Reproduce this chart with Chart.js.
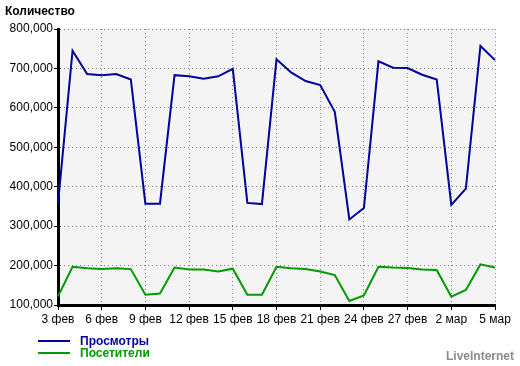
<!DOCTYPE html>
<html lang="ru">
<head>
    <meta charset="UTF-8">
    <title>Количество</title>
    <script src="https://cdn.jsdelivr.net/npm/chart.js"></script>
    <style>
        body {
            margin: 0;
            font-family: "Liberation Sans", Arial, sans-serif;
            background: #fff;
        }
        .wrap {
            position: relative;
            width: 520px;
            height: 366px;
        }
        canvas {
            position: absolute;
            left: 0;
            top: 0;
        }
        .title {
            position: absolute;
            left: 5px;
            top: 4px;
            font-weight: bold;
            font-size: 12px;
            color: #000;
        }
        .legend {
            position: absolute;
            left: 38px;
            top: 335px;
            font-weight: bold;
            font-size: 12px;
            line-height: 12px;
        }
        .legend div {
            height: 12px;
            display: flex;
            align-items: center;
        }
        .legend span.line {
            display: inline-block;
            width: 32px;
            height: 2px;
            margin-right: 10px;
        }
        .brand {
            position: absolute;
            right: 6px;
            top: 349px;
            font-weight: bold;
            font-size: 12px;
            color: #8c8c8c;
        }
    </style>
</head>
<body>
<div class="wrap">
    <canvas id="myChart" width="520" height="366"></canvas>
    <div class="title">Количество</div>
    <div class="legend" id="legend"></div>
    <div class="brand">LiveInternet</div>
</div>

<script>
    // days 3 фев .. 5 мар
    const days = ['3 фев', '4 фев', '5 фев', '6 фев', '7 фев', '8 фев', '9 фев', '10 фев', '11 фев', '12 фев',
        '13 фев', '14 фев', '15 фев', '16 фев', '17 фев', '18 фев', '19 фев', '20 фев', '21 фев', '22 фев',
        '23 фев', '24 фев', '25 фев', '26 фев', '27 фев', '28 фев', '1 мар', '2 мар', '3 мар', '4 мар', '5 мар'];

    const views = [357000, 745000, 686000, 683000, 686000, 672000, 357000, 357000, 683000, 680000,
        674000, 680000, 699000, 359000, 356000, 723000, 690000, 668000, 658000, 590000,
        317000, 346000, 718000, 702000, 701000, 684000, 672000, 354000, 395000, 757000, 721000];

    const visitors = [122000, 197000, 193000, 191000, 193000, 191000, 126000, 129000, 195000, 190000,
        190000, 185000, 192000, 126000, 126000, 197000, 193000, 191000, 185000, 176000,
        110000, 124000, 197000, 195000, 194000, 190000, 189000, 121000, 138000, 203000, 195000];

    const seriesNames = ['Просмотры', 'Посетители'];
    const seriesColors = ['#00009c', '#009a00'];

    const plotBg = {
        id: 'plotBg',
        beforeDraw(chart) {
            const a = chart.chartArea;
            const ctx = chart.ctx;
            ctx.save();
            ctx.fillStyle = '#f4f4f4';
            ctx.fillRect(a.left, a.top, a.right - a.left, a.bottom - a.top);
            ctx.restore();
        }
    };

    const everyThird = ctx => (ctx.index % 3 === 0 ? '#808080' : 'rgba(0,0,0,0)');
    const tickThird = ctx => (ctx.index % 3 === 0 ? '#000' : 'rgba(0,0,0,0)');

    const ctx = document.getElementById('myChart').getContext('2d');
    new Chart(ctx, {
        type: 'line',
        data: {
            labels: days,
            datasets: [
                {
                    label: seriesNames[0],
                    data: views,
                    borderColor: seriesColors[0],
                    borderWidth: 2,
                    pointRadius: 0,
                    tension: 0,
                    fill: false
                },
                {
                    label: seriesNames[1],
                    data: visitors,
                    borderColor: seriesColors[1],
                    borderWidth: 2,
                    pointRadius: 0,
                    tension: 0,
                    fill: false
                }
            ]
        },
        options: {
            responsive: false,
            animation: false,
            layout: {
                padding: { top: 29, right: 25, bottom: 41, left: 0 }
            },
            scales: {
                x: {
                    grid: {
                        color: everyThird,
                        tickColor: tickThird,
                        tickBorderDash: [],
                        tickLength: 5
                    },
                    border: { display: true, color: '#000', width: 3, dash: [1, 3] },
                    ticks: {
                        autoSkip: false,
                        maxRotation: 0,
                        color: '#000',
                        padding: 2,
                        font: { family: '"Liberation Sans", Arial, sans-serif', size: 12 },
                        callback: (v, i) => (i % 3 === 0 ? days[i] : '')
                    },
                    afterFit: scale => { scale.height = 20; }
                },
                y: {
                    min: 100000,
                    max: 800000,
                    grid: {
                        color: '#808080',
                        tickColor: '#000',
                        tickBorderDash: [],
                        tickLength: 4
                    },
                    border: { display: true, color: '#000', width: 3, dash: [1, 3] },
                    ticks: {
                        stepSize: 100000,
                        color: '#000',
                        padding: 1,
                        font: { family: '"Liberation Sans", Arial, sans-serif', size: 12 },
                        callback: v => v.toLocaleString('en-US')
                    },
                    afterFit: scale => { scale.width = 58; }
                }
            },
            plugins: {
                legend: { display: false },
                tooltip: { enabled: false }
            }
        },
        plugins: [plotBg]
    });

    // legend under the chart
    const legend = document.getElementById('legend');
    seriesNames.forEach((name, i) => {
        const row = document.createElement('div');
        row.innerHTML = '<span class="line" style="background:' + seriesColors[i] + '"></span>' +
            '<span style="color:' + seriesColors[i] + '">' + name + '</span>';
        legend.appendChild(row);
    });
</script>
</body>
</html>
